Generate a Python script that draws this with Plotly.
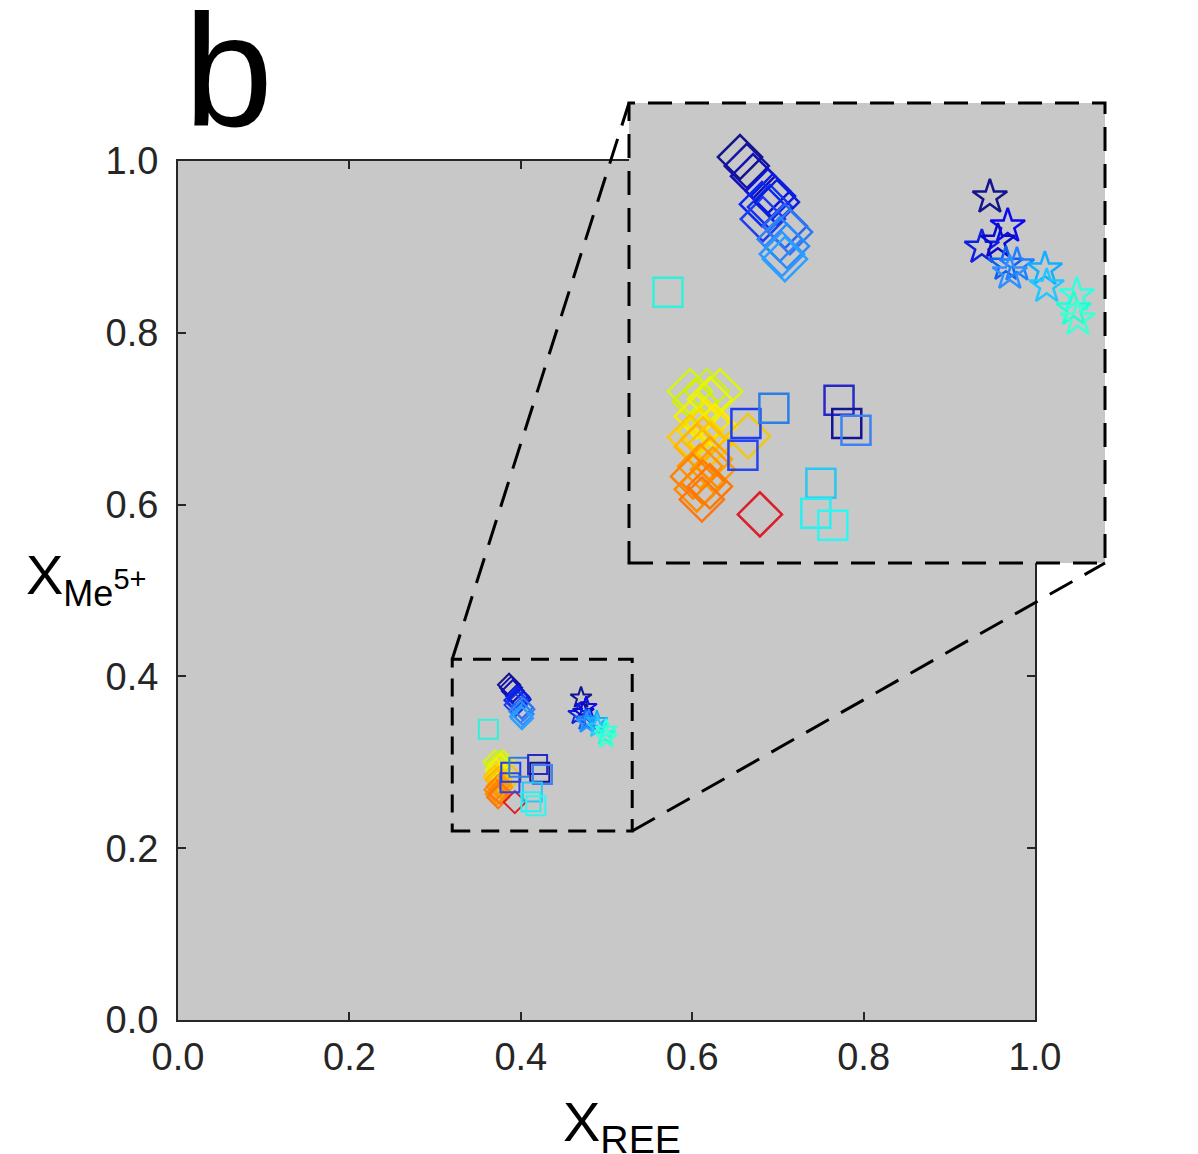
import plotly.graph_objects as go

# ---------------- data (x_REE, x_Me5+) ----------------
# diamonds
dia_x = [0.3863, 0.3886, 0.3907,
         0.3957, 0.3974, 0.3937, 0.3964, 0.3940, 0.3987,
         0.4014, 0.4031, 0.3997, 0.4021, 0.4004, 0.4014,
         0.3695, 0.3752, 0.3796, 0.3712, 0.3762,
         0.3718, 0.3752, 0.3729, 0.3779, 0.3890,
         0.3695, 0.3739, 0.3718, 0.3762,
         0.3762, 0.3729, 0.3772,
         0.3705, 0.3739, 0.3718, 0.3762, 0.3735,
         0.3930]
dia_y = [0.3903, 0.3869, 0.3830,
         0.3773, 0.3754, 0.3723, 0.3712, 0.3666, 0.3731,
         0.3639, 0.3616, 0.3589, 0.3562, 0.3532, 0.3513,
         0.3007, 0.3007, 0.3007, 0.2969, 0.2976,
         0.2911, 0.2888, 0.2854, 0.2873, 0.2835,
         0.2831, 0.2823, 0.2796, 0.2804,
         0.2747, 0.2720, 0.2708,
         0.2681, 0.2658, 0.2632, 0.2643, 0.2593,
         0.2536]
dia_c = ["#14148c", "#1414a0", "#1010b4",
         "#0a14d2", "#0a1ee6", "#0a28f0", "#1432f0", "#1e3cf0", "#0a1edc",
         "#2864f0", "#2d78f5", "#3282fa", "#288cfa", "#3296ff", "#2aa0ff",
         "#d2f514", "#c8f01e", "#dcf50a", "#d2f000", "#e6f50a",
         "#f5f000", "#fae600", "#f5dc00", "#ffeb00", "#f0c814",
         "#ffc800", "#ffbe00", "#ffb400", "#ffc300",
         "#ffa000", "#ff9600", "#ff9b00",
         "#ff8200", "#ff7d00", "#ff8c00", "#ff7800", "#fa7814",
         "#dc1e28"]

# squares
sq_x = [0.3621, 0.3883, 0.3873, 0.3977, 0.4196, 0.4222, 0.4253, 0.4135, 0.4118, 0.4175]
sq_y = [0.3386, 0.2884, 0.2762, 0.2942, 0.2973, 0.2884, 0.2858, 0.2655, 0.2540, 0.2494]
sq_c = ["#32f0dc", "#1e3cf0", "#2846f0", "#2d7de6", "#2828c8",
        "#141496", "#3c82f0", "#28c8f0", "#28f0f0", "#32f5f0"]

# stars
st_x = [0.4703, 0.4763, 0.4676, 0.4730, 0.4757, 0.4794, 0.4770, 0.4888, 0.4894, 0.4995, 0.4985, 0.4999]
st_y = [0.3750, 0.3639, 0.3558, 0.3581, 0.3493, 0.3490, 0.3459, 0.3474, 0.3409, 0.3375, 0.3321, 0.3283]
st_c = ["#14148c", "#0a0af0", "#1020e0", "#0a0acc", "#1060f0", "#2080ff",
        "#3090ff", "#10b0ff", "#20c8ff", "#30ffe0", "#20ffd0", "#40ffd0"]

main_ticks = [0.0, 0.2, 0.4, 0.6, 0.8, 1.0]
tick_text = ["0.0", "0.2", "0.4", "0.6", "0.8", "1.0"]

zoom_box_x = [0.32, 0.53]
zoom_box_y = [0.22, 0.42]
inset_range_x = [0.349, 0.509]
inset_range_y = [0.235, 0.411]

# ---------------- layout geometry ----------------
W, H = 1198, 1154
L, R, T, B = 178, 93, 103, 134
pw = W - L - R
ph = H - T - B


def px_x(p):
    return (p - L) / pw


def px_y(p):
    return (H - B - p) / ph


FONT = "Liberation Sans, Arial, sans-serif"
INK = "#262626"
BG = "#c8c8c8"

fig = go.Figure()

series = [
    ("diamond-open", dia_x, dia_y, dia_c, 17, 34),
    ("square-open", sq_x, sq_y, sq_c, 19, 29),
    ("star-open", st_x, st_y, st_c, 16, 26),
]
for sym, xs, ys, cs, s_main, s_in in series:
    fig.add_trace(go.Scatter(x=xs, y=ys, mode="markers", xaxis="x", yaxis="y",
                             marker=dict(symbol=sym, size=s_main, color=cs,
                                         line=dict(width=2)),
                             showlegend=False, hoverinfo="skip"))
for sym, xs, ys, cs, s_main, s_in in series:
    fig.add_trace(go.Scatter(x=xs, y=ys, mode="markers", xaxis="x2", yaxis="y2",
                             marker=dict(symbol=sym, size=s_in, color=cs,
                                         line=dict(width=2.5)),
                             showlegend=False, hoverinfo="skip"))

axis_common = dict(showgrid=False, zeroline=False, showline=True, linecolor=INK,
                   linewidth=2, mirror="ticks", ticks="inside", ticklen=8,
                   tickwidth=2, tickcolor=INK,
                   tickfont=dict(family=FONT, size=38, color=INK),
                   tickvals=main_ticks, ticktext=tick_text, range=[0, 1])

fig.update_layout(
    width=W, height=H,
    margin=dict(l=L, r=R, t=T, b=B, pad=0),
    paper_bgcolor="white", plot_bgcolor=BG,
    xaxis=dict(domain=[0, px_x(1035)], anchor="y", ticklabelstandoff=2, **axis_common),
    yaxis=dict(domain=[0, px_y(161)], anchor="x", ticklabelstandoff=10, **axis_common),
    xaxis2=dict(domain=[px_x(629), 1], anchor="y2", range=inset_range_x,
                showgrid=False, zeroline=False, showline=False,
                showticklabels=False, ticks=""),
    yaxis2=dict(domain=[px_y(563), 1], anchor="x2", range=inset_range_y,
                showgrid=False, zeroline=False, showline=False,
                showticklabels=False, ticks=""),
)

# dashed zoom box in main axes
fig.add_shape(type="rect", xref="x", yref="y",
              x0=zoom_box_x[0], x1=zoom_box_x[1], y0=zoom_box_y[0], y1=zoom_box_y[1],
              line=dict(color="black", width=3, dash="18px,11px"))
# dashed border of the inset
fig.add_shape(type="rect", xref="paper", yref="paper",
              x0=px_x(629), x1=1, y0=px_y(563), y1=1,
              line=dict(color="black", width=3, dash="24px,13px"))
# connector lines (main-data corners -> inset corners)
sx = px_x(1035)
sy = px_y(161)
fig.add_shape(type="line", xref="paper", yref="paper",
              x0=zoom_box_x[0] * sx, y0=zoom_box_y[1] * sy, x1=px_x(629), y1=1,
              line=dict(color="black", width=3, dash="26px,14px"))
fig.add_shape(type="line", xref="paper", yref="paper",
              x0=zoom_box_x[1] * sx, y0=zoom_box_y[0] * sy, x1=1, y1=px_y(563),
              line=dict(color="black", width=3, dash="26px,14px"))

# panel letter
fig.add_annotation(text="b", xref="paper", yref="paper", x=px_x(228), y=px_y(70),
                   xanchor="center", yanchor="middle", showarrow=False,
                   font=dict(family=FONT, size=160, color="black"))
# axis titles
fig.add_annotation(text="X<sub>REE</sub>", xref="paper", yref="paper",
                   x=px_x(622), y=px_y(1125), xanchor="center", yanchor="middle",
                   showarrow=False, font=dict(family=FONT, size=56, color="black"))
fig.add_annotation(text="X<sub><span style='font-size:36px'>Me</span><sup><span style='font-size:29px'>5+</span></sup></sub>",
                   xref="paper", yref="paper",
                   x=px_x(86), y=px_y(578), xanchor="center", yanchor="middle",
                   showarrow=False, font=dict(family=FONT, size=56, color="black"))

fig.write_html("out.html")
